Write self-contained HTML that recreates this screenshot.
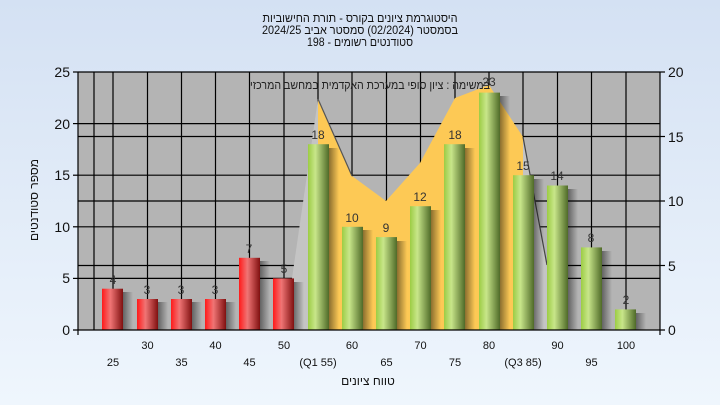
<!DOCTYPE html>
<html><head><meta charset="utf-8"><style>
html,body{margin:0;padding:0;width:720px;height:405px;overflow:hidden}
svg{display:block;font-family:"Liberation Sans","Noto Sans CJK SC",sans-serif}
</style></head><body>
<svg width="720" height="405" viewBox="0 0 720 405">
<defs>
<linearGradient id="bg" x1="0" y1="0" x2="0" y2="1"><stop offset="0" stop-color="#d4e1f3"/><stop offset="1" stop-color="#eff6fd"/></linearGradient>
<linearGradient id="rd" x1="0" y1="0" x2="1" y2="0"><stop offset="0" stop-color="#ff1a1a"/><stop offset="0.4" stop-color="#f07575"/><stop offset="1" stop-color="#801010"/></linearGradient>
<linearGradient id="gr" x1="0" y1="0" x2="1" y2="0"><stop offset="0" stop-color="#9ccc44"/><stop offset="0.35" stop-color="#c8e68a"/><stop offset="1" stop-color="#4f6a28"/></linearGradient>
<linearGradient id="sh" x1="0" y1="0" x2="1" y2="0"><stop offset="0" stop-color="#000" stop-opacity="0.45"/><stop offset="1" stop-color="#000" stop-opacity="0"/></linearGradient>
</defs>
<rect width="720" height="405" fill="url(#bg)"/>
<g font-size="12" fill="#111" text-anchor="middle">
<text x="360" y="22" textLength="195" lengthAdjust="spacingAndGlyphs">היסטוגרמת ציונים בקורס - תורת החישוביות</text>
<text x="360" y="34" textLength="196" lengthAdjust="spacingAndGlyphs">בסמסטר  (02/2024)  סמסטר אביב 2024/25</text>
<text x="360" y="46" textLength="106" lengthAdjust="spacingAndGlyphs">סטודנטים רשומים - 198</text>
</g>
<rect x="78" y="72" width="582" height="258" fill="#b4b4b4"/>
<g stroke="#000" stroke-width="1.2">
<line x1="78" y1="278.4" x2="660" y2="278.4"/><line x1="78" y1="226.8" x2="660" y2="226.8"/><line x1="78" y1="175.2" x2="660" y2="175.2"/><line x1="78" y1="123.6" x2="660" y2="123.6"/>
<line x1="78" y1="265.5" x2="660" y2="265.5"/><line x1="78" y1="201" x2="660" y2="201"/><line x1="78" y1="136.5" x2="660" y2="136.5"/>
<line x1="78" y1="72" x2="660" y2="72"/>
<line x1="94" y1="72" x2="94" y2="330"/>
<line x1="113" y1="72" x2="113" y2="330"/><line x1="147.5" y1="72" x2="147.5" y2="330"/><line x1="181.5" y1="72" x2="181.5" y2="330"/><line x1="215.5" y1="72" x2="215.5" y2="330"/><line x1="249.5" y1="72" x2="249.5" y2="330"/><line x1="284" y1="72" x2="284" y2="330"/><line x1="318" y1="72" x2="318" y2="330"/><line x1="352" y1="72" x2="352" y2="330"/><line x1="386.5" y1="72" x2="386.5" y2="330"/><line x1="420.5" y1="72" x2="420.5" y2="330"/><line x1="455" y1="72" x2="455" y2="330"/><line x1="489" y1="72" x2="489" y2="330"/><line x1="523" y1="72" x2="523" y2="330"/><line x1="557.5" y1="72" x2="557.5" y2="330"/><line x1="591.5" y1="72" x2="591.5" y2="330"/><line x1="626" y1="72" x2="626" y2="330"/>
</g>
<polygon points="290,330 290,292 318,99 318,330" fill="#c4c4c4"/>
<polygon points="523,137 547,265 547,330 523,330" fill="#c4c4c4"/>
<polygon points="318,330 318,99 352,176 386,201 420,163 455,98 489,85 523,137 523,330" fill="#fdc955"/>
<polyline points="318,99 352,176" stroke="#555" stroke-width="1.2" fill="none"/>
<polyline points="523,137 547,265" stroke="#444" stroke-width="1.2" fill="none"/>
<g>
<rect x="123" y="292" width="10" height="38" fill="url(#sh)"/>
<rect x="158" y="302" width="10" height="28" fill="url(#sh)"/>
<rect x="192" y="302" width="10" height="28" fill="url(#sh)"/>
<rect x="226" y="302" width="10" height="28" fill="url(#sh)"/>
<rect x="260" y="261" width="10" height="69" fill="url(#sh)"/>
<rect x="294" y="282" width="10" height="48" fill="url(#sh)"/>
<rect x="329" y="148" width="10" height="182" fill="url(#sh)"/>
<rect x="363" y="230" width="10" height="100" fill="url(#sh)"/>
<rect x="397" y="241" width="10" height="89" fill="url(#sh)"/>
<rect x="431" y="210" width="10" height="120" fill="url(#sh)"/>
<rect x="465" y="148" width="10" height="182" fill="url(#sh)"/>
<rect x="500" y="96" width="10" height="234" fill="url(#sh)"/>
<rect x="534" y="179" width="10" height="151" fill="url(#sh)"/>
<rect x="568" y="189" width="10" height="141" fill="url(#sh)"/>
<rect x="602" y="251" width="10" height="79" fill="url(#sh)"/>
<rect x="636" y="313" width="10" height="17" fill="url(#sh)"/>
</g>
<g fill="url(#rd)">
<rect x="102" y="288.7" width="21" height="41.3"/>
<rect x="137" y="299" width="21" height="31"/>
<rect x="171" y="299" width="21" height="31"/>
<rect x="205" y="299" width="21" height="31"/>
<rect x="239" y="257.8" width="21" height="72.2"/>
<rect x="273" y="278.4" width="21" height="51.6"/>
</g>
<g fill="url(#gr)">
<rect x="308" y="144.2" width="21" height="185.8"/>
<rect x="342" y="226.8" width="21" height="103.2"/>
<rect x="376" y="237.1" width="21" height="92.9"/>
<rect x="410" y="206.2" width="21" height="123.8"/>
<rect x="444" y="144.2" width="21" height="185.8"/>
<rect x="479" y="92.6" width="21" height="237.4"/>
<rect x="513" y="175.2" width="21" height="154.8"/>
<rect x="547" y="185.5" width="21" height="144.5"/>
<rect x="581" y="247.4" width="21" height="82.6"/>
<rect x="615" y="309.4" width="21" height="20.6"/>
</g>
<text x="370" y="89" font-size="12" text-anchor="middle" fill="#222" textLength="240" lengthAdjust="spacingAndGlyphs">במשימה : ציון סופי במערכת האקדמית במחשב המרכזי</text>
<g font-size="12" text-anchor="middle" fill="#333">
<text x="113" y="284">4</text><text x="147" y="294">3</text><text x="181" y="294">3</text><text x="215" y="294">3</text><text x="249" y="253">7</text><text x="284" y="273">5</text>
<text x="318" y="139">18</text><text x="352" y="222">10</text><text x="386" y="232">9</text><text x="420" y="201">12</text><text x="455" y="139">18</text><text x="489" y="86">23</text><text x="523" y="170">15</text><text x="557" y="180">14</text><text x="591" y="242">8</text><text x="626" y="304">2</text>
</g>
<g stroke="#000" stroke-width="1.2">
<line x1="78" y1="72" x2="78" y2="335"/><line x1="73" y1="330" x2="665" y2="330"/><line x1="660" y1="72" x2="660" y2="335"/>
<line x1="73" y1="72" x2="78" y2="72"/><line x1="73" y1="123.6" x2="78" y2="123.6"/><line x1="73" y1="175.2" x2="78" y2="175.2"/><line x1="73" y1="226.8" x2="78" y2="226.8"/><line x1="73" y1="278.4" x2="78" y2="278.4"/>
<line x1="660" y1="72" x2="665" y2="72"/><line x1="660" y1="136.5" x2="665" y2="136.5"/><line x1="660" y1="201" x2="665" y2="201"/><line x1="660" y1="265.5" x2="665" y2="265.5"/>
</g>
<g font-size="14" fill="#111" text-anchor="end">
<text x="70" y="77">25</text><text x="70" y="129">20</text><text x="70" y="180">15</text><text x="70" y="232">10</text><text x="70" y="283">5</text><text x="70" y="335">0</text>
</g>
<g font-size="14" fill="#111" text-anchor="start">
<text x="668" y="77">20</text><text x="668" y="142">15</text><text x="668" y="206">10</text><text x="668" y="271">5</text><text x="668" y="335">0</text>
</g>
<g font-size="11" fill="#111" text-anchor="middle">
<text x="147.5" y="349">30</text><text x="215.5" y="349">40</text><text x="284" y="349">50</text><text x="352" y="349">60</text><text x="420.5" y="349">70</text><text x="489" y="349">80</text><text x="557.5" y="349">90</text><text x="626" y="349">100</text>
<text x="113" y="366">25</text><text x="181.5" y="366">35</text><text x="249.5" y="366">45</text><text x="318" y="366">(Q1 55)</text><text x="386.5" y="366">65</text><text x="455" y="366">75</text><text x="523" y="366">(Q3 85)</text><text x="591.5" y="366">95</text>
<text x="368" y="385" font-size="12">טווח ציונים</text>
</g>
<text transform="translate(38,200) rotate(-90)" font-size="12" text-anchor="middle" fill="#111">מספר סטודנטים</text>
</svg>
</body></html>
